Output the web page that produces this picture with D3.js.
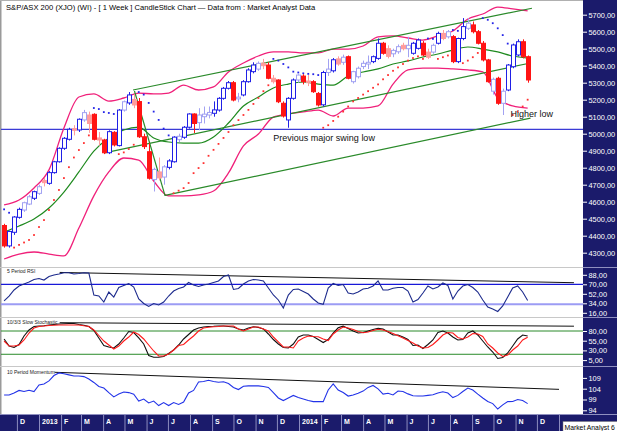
<!DOCTYPE html>
<html><head><meta charset="utf-8">
<script src="https://cdn.jsdelivr.net/npm/d3@7"></script>
<style>body{margin:0;background:#fff}svg{display:block;font-family:'Liberation Sans',Arial,sans-serif}</style>
</head><body><svg id="c" width="617" height="431"></svg>
<script>
// ---------- DATA (weekly S&P/ASX 200) ----------
const open=[4460,4340,4420,4508,4551,4586,4620,4649,4725,4708,4771,4835,4914,4967,5030,5022,5081,5110,5114,4975,
4963,4888,5008,4930,5139,5181,5202,5189,4982,4894,4730,4775,4745,4802,4835,4965,4979,5038,5116,5065,
5100,5110,5120,5139,5208,5267,5300,5205,5228,5306,5365,5380,5415,5404,5326,5316,5179,5081,5208,5316,
5339,5310,5306,5237,5170,5360,5370,5440,5420,5453,5306,5335,5395,5410,5424,5443,5532,5500,5470,5482,
5520,5500,5473,5502,5532,5480,5480,5532,5590,5570,5571,5424,5560,5620,5640,5600,5532,5434,5250,5326,
5179,5257,5394,5463,5541,5453];
const high=[4470,4430,4515,4565,4600,4640,4665,4700,4740,4780,4840,4920,4980,5035,5050,5090,5140,5130,5120,5010,
4970,5020,5015,5145,5195,5245,5230,5210,5000,4946,4800,4860,4815,4850,4985,5000,5045,5120,5120,5150,
5160,5160,5190,5215,5275,5310,5310,5240,5315,5385,5420,5425,5440,5420,5345,5320,5190,5215,5325,5350,
5350,5345,5315,5245,5370,5440,5445,5455,5465,5460,5370,5395,5430,5460,5460,5560,5540,5520,5500,5525,
5535,5570,5540,5560,5545,5500,5530,5600,5610,5610,5580,5565,5680,5680,5660,5610,5545,5440,5330,5335,
5265,5410,5530,5555,5555,5460];
const low=[4330,4330,4405,4500,4540,4580,4610,4640,4690,4700,4765,4830,4905,4960,4990,5010,5070,5005,4960,4930,
4880,4880,4925,4925,5130,5170,5150,4975,4910,4730,4660,4725,4700,4790,4830,4950,4970,5030,5004,5020,
5060,5090,5100,5130,5200,5260,5190,5185,5220,5300,5355,5370,5380,5320,5295,5180,5095,5035,5200,5300,
5290,5280,5240,5160,5160,5340,5360,5400,5405,5320,5295,5325,5380,5380,5415,5435,5465,5443,5450,5470,
5490,5450,5465,5495,5455,5440,5470,5525,5550,5560,5415,5415,5550,5610,5590,5525,5425,5300,5230,5170,
5110,5250,5385,5455,5443,5300];
const close=[4340,4425,4510,4555,4594,4629,4659,4688,4712,4771,4835,4914,4973,5026,5020,5085,5124,5060,4967,4963,
4888,5012,4934,5139,5188,5228,5169,4982,4924,4738,4790,4740,4805,4840,4980,4985,5038,5116,5060,5110,
5115,5125,5140,5208,5267,5300,5198,5215,5306,5375,5404,5414,5400,5326,5306,5188,5104,5208,5316,5345,
5306,5300,5247,5169,5360,5380,5435,5410,5450,5326,5365,5385,5414,5420,5453,5532,5473,5455,5490,5512,
5500,5520,5532,5551,5463,5450,5520,5590,5560,5600,5424,5560,5630,5650,5600,5532,5434,5306,5320,5179,
5250,5404,5522,5541,5453,5316];
// weeks drawn in the pale shade
const paleWeeks=[4,5,7,8,14,16,17,19,24,26,30,31,32,35,39,40,41,47,51,52,54,59,61,65,67,68,70,71,72,73,77,78,79,80,81,85,86,88,89,93,98,100];
// Bollinger bands / 20-week average, sampled every 3rd week
const bandWeeks=d3.range(0,106,3);
const upperBand=[4581,4610,4681,4787,5034,5216,5234,5192,5210,5239,5234,5239,5286,5257,5275,5363,5416,5457,5481,5481,5475,5475,5498,5498,5516,5569,5575,5563,5551,5575,5604,5675,5704,5745,5734,5722];
const midBand=[4422,4457,4498,4563,4657,4775,4898,4975,5022,5039,4975,4951,4945,4945,4981,5063,5163,5216,5269,5292,5304,5292,5286,5339,5363,5381,5410,5428,5451,5469,5492,5510,5498,5481,5457,5445];
const lowerBand=[4263,4292,4304,4292,4281,4445,4634,4775,4857,4845,4722,4634,4634,4640,4663,4769,4928,4998,5098,5116,5128,5139,5104,5151,5151,5163,5292,5375,5386,5386,5381,5375,5363,5210,5163,5151];
// parabolic SAR
const sar=[4555,4535,4330,4346,4360,4375,4404,4451,4492,4551,4610,4669,4739,4803,4860,4904,4945,4990,5151,5145,
5127,5122,5116,4880,4890,4910,4935,5245,5230,5181,5130,5081,5030,4990,4650,4665,4680,4710,4768,4798,
4827,4870,4905,4940,4975,5010,5050,5080,5110,5140,5175,5210,5250,5285,5440,5430,5410,5390,5365,5360,
5355,5352,5350,5345,5035,5050,5075,5100,5130,5160,5190,5210,5230,5250,5270,5290,5320,5345,5370,5390,
5410,5430,5445,5455,5440,5560,5558,5440,5450,5460,5610,5605,5415,5430,5450,5475,5680,5670,5650,5620,
5580,5530,5110,5130,5160,5200];
// trend / channel lines [date, price]
const channelLines=[
  [[new Date(2013,4,13),5257],[new Date(2014,10,24),5738]],
  [[new Date(2013,3,3),4887],[new Date(2014,10,22),5416]],
  [[new Date(2013,5,27),4637],[new Date(2014,10,22),5092]],
  [[new Date(2013,4,15),5251],[new Date(2013,5,27),4634]]
];
const swingLow=5025;
// indicators
const rsi=[38.4,47.8,59.2,66.8,70.6,74.4,79.1,81,78.1,84.8,87.6,89.5,92,92,89.5,90.5,92,91.4,49.7,47.8,
36.5,55.4,45.9,63.9,67.7,71.5,64.9,42.2,33.6,28,33.6,30.8,36.5,47.8,57.3,62,64.9,73.4,68.7,65.8,
68.7,70.6,73.4,76.3,84.8,87.6,60.2,62,70.6,76.3,79.1,78.1,76.3,63,49.7,40.3,25.1,49.7,60.2,61.1,
56.4,51.6,42.2,34.6,32.1,63,71.5,67.7,69.6,53.5,51.6,55.4,61.1,62.4,66.8,76.3,59.2,59.2,62.4,63.9,
63.9,57.3,36.5,41.2,53.5,66.8,61.1,64.9,72.5,67.7,42.2,57.3,66.8,69.6,63.9,55.4,40.3,27,23.2,18.5,
28.9,45.9,63,66.8,55.4,39.3];
const stochK=[59.4,41.3,37.5,45.2,67.1,82.6,91.6,92.9,93.7,95.5,96.8,98,98.8,99.3,99.3,96.8,94.7,91.6,81.3,62,
42.6,38.8,36.2,46.5,62,78.7,76.1,62,46.5,16.9,12.2,12.2,14.3,22,31,43.9,59.4,71,82.6,87.7,
90.3,91.6,92.1,92.9,92.9,91.6,90.3,85.2,82.6,87.7,91.1,89,85.2,72.3,58.1,46.5,37.5,36.2,46.5,64.5,
69.7,69.7,65.8,58.1,50.4,58.1,74.8,88.2,92.4,86.4,80,74.8,76.1,80,83.9,87,85.2,77.4,69.7,69.7,
64.5,58.1,42.6,43.9,34.9,45.2,56.8,76.1,80,74.8,64.5,56.8,58.1,74.8,80,69.7,54.2,38.8,25.9,9.1,
11.7,23.3,41.3,59.4,69.7,67.1];
const stochD=[54.2,41.3,41.3,43.9,56.8,74.8,87.7,91.6,92.9,94.2,94.9,95.5,95.5,95.5,95.5,95.5,93.4,91.6,82.6,68.4,
54.2,43.9,33.6,41.3,54.2,64.5,77.4,71,59.4,43.9,28.5,15.6,15.6,20.7,31,42.6,45.2,56.8,67.1,80,
87.7,89.5,91.1,91.6,92.9,92.9,92.9,85.2,80,85.2,90.3,90.3,85.2,80,64.5,51.7,38.8,38.8,36.2,54.2,
62,67.1,65.8,65.3,59.4,55.5,72.3,82.6,90.3,87.7,83.9,78.7,75.6,77.4,81.3,84.6,82.6,78.7,73.6,67.6,
62,55.5,49.1,41.3,36.2,37.5,45.2,56.8,69.7,76.1,74.8,63.2,59.4,64.5,73.6,72.3,65.8,46.5,36.2,23.3,
14.3,18.2,31,41.3,56.8,63.8];
const momentum=[101.1,101.1,102,103.2,102.7,103.3,102.7,105.7,106.2,107.6,110.1,111.3,110.9,110.4,109.9,109.9,109.6,108.5,106.9,105,
104.3,102.2,100.2,101.5,102.5,102.2,101.5,98.3,99.2,97.4,98.3,96.2,97.6,96.2,97.6,96.7,97.8,102,103.2,107.1,
107.3,107.9,107.3,107,107.2,106.4,104.6,103.6,105.1,105.3,105.3,105.3,105,104.6,102.2,99.7,98.5,99.7,100.9,99.9,
99.2,98.5,98,98,98,103.4,106.2,103.4,102.2,100.6,101.1,101.9,102.9,104.6,105.5,103.9,101.5,101.9,101.1,102.9,
102.7,101.6,100.7,100.6,100.6,100.9,101.2,102,102.6,102,99.9,100.9,102.7,104.3,103.4,101.5,99.7,98.1,97.1,94.6,
96.5,98,98.1,99,98.5,97.1];
const rsiTrend=[[new Date(2013,0,30),92.5],[new Date(2015,0,22),73]];
const stochTrend=[[new Date(2013,0,30),101.4],[new Date(2015,0,22),92.4]];
const momTrend=[[new Date(2013,0,23),111.6],[new Date(2015,0,1),103.7]];
const priceTicks=[4300,4400,4500,4600,4700,4800,4900,5000,5100,5200,5300,5400,5500,5600,5700];
const rsiTicks=[88,70,52,34,16];
const rsiLevels=[70,32];
const stochTicks=[80,55,30,5];
const stochLevels=[80,20];
const momTicks=[109,104,99,94];
const titleText="S&P/ASX 200 (XJO) (WI) -  [ 1 Week ] CandleStick Chart \u2014 Data from : Market Analyst Data";

// ---------- DRAW ----------
const svg=d3.select('#c');
const NAVY='#1b1b6b', PLOT_R=583;
const x=d3.scaleTime().domain([new Date(2013,0,1),new Date(2014,0,1)]).range([39,299]);
const firstWeek=new Date(2012,10,13);
const weeks=d3.range(close.length).map(i=>d3.timeDay.offset(firstWeek,7*i));
const yP=d3.scaleLinear().domain([4300,5700]).range([252.7,14.7]);
const yR=d3.scaleLinear().domain([16,88]).range([312.8,274.8]);
const yS=d3.scaleLinear().domain([5,80]).range([360.1,331]);
const yM=d3.scaleLinear().domain([94,109]).range([410.3,377.9]);
const fmt2=d3.formatLocale({decimal:",",thousands:".",grouping:[3],currency:["",""]}).format(".2f");

const defs=svg.append('defs');
[['cMain',0,267],['cRsi',267,317],['cSto',317,366],['cMom',366,414]].forEach(([id,y0,y1])=>{
  defs.append('clipPath').attr('id',id).append('rect').attr('x',1).attr('y',y0).attr('width',PLOT_R-1).attr('height',y1-y0);
});

// frame
svg.append('rect').attr('x',0).attr('y',0).attr('width',617).attr('height',431).attr('fill','#fff');
svg.append('rect').attr('x',0).attr('y',0).attr('width',1.5).attr('height',414).attr('fill','#9a9a9a');
svg.append('line').attr('x1',0).attr('x2',PLOT_R).attr('y1',0.5).attr('y2',0.5).attr('stroke','#b0b0b0');
[267,317,366].forEach(y=>svg.append('line').attr('x1',0).attr('x2',PLOT_R).attr('y1',y+0.5).attr('y2',y+0.5).attr('stroke','#c8c8c8'));

// ---- main panel ----
const gm=svg.append('g').attr('clip-path','url(#cMain)');
gm.append('line').attr('x1',0).attr('x2',PLOT_R).attr('y1',yP(swingLow)).attr('y2',yP(swingLow)).attr('stroke','#3b3bd6').attr('stroke-width',1.2);
const bandLine=d3.line().x(d=>x(weeks[d[0]])).y(d=>yP(d[1])).curve(d3.curveMonotoneX);
gm.append('path').attr('d',bandLine(bandWeeks.map((w,k)=>[w,upperBand[k]]))).attr('fill','none').attr('stroke','#f0207a').attr('stroke-width',1.3);
gm.append('path').attr('d',bandLine(bandWeeks.map((w,k)=>[w,lowerBand[k]]))).attr('fill','none').attr('stroke','#f0207a').attr('stroke-width',1.3);
gm.append('path').attr('d',bandLine(bandWeeks.map((w,k)=>[w,midBand[k]]))).attr('fill','none').attr('stroke','#1f8a1f').attr('stroke-width',1.2);
channelLines.forEach(l=>{
  gm.append('line').attr('x1',x(l[0][0])).attr('y1',yP(l[0][1])).attr('x2',x(l[1][0])).attr('y2',yP(l[1][1]))
    .attr('stroke','#2a8a2a').attr('stroke-width',1.2);
});
// SAR dots
gm.selectAll('rect.sar').data(sar).join('rect').attr('class','sar')
  .attr('x',(d,i)=>x(weeks[i])-0.9).attr('y',d=>yP(d)-0.9).attr('width',1.8).attr('height',1.8)
  .attr('fill',(d,i)=>d<close[i]?'#ff3030':'#2424e8');
// candles
const pale=new Set(paleWeeks);
const cd=close.map((c,i)=>({i,t:weeks[i],o:open[i],h:high[i],l:low[i],c,pale:pale.has(i)}));
const col=d=>d.c>=d.o?(d.pale?'#a2a2f2':'#2020e6'):(d.pale?'#ff9c9c':'#ff1414');
gm.selectAll('line.wick').data(cd).join('line').attr('class','wick')
  .attr('x1',d=>Math.round(x(d.t))+0.5).attr('x2',d=>Math.round(x(d.t))+0.5)
  .attr('y1',d=>yP(d.h)).attr('y2',d=>yP(d.l)).attr('stroke',col).attr('stroke-width',1);
gm.selectAll('rect.body').data(cd).join('rect').attr('class','body')
  .attr('x',d=>Math.round(x(d.t))-1.5).attr('width',4)
  .attr('y',d=>yP(Math.max(d.o,d.c))).attr('height',d=>Math.max(1,Math.abs(yP(d.o)-yP(d.c))))
  .attr('fill',d=>d.c>=d.o?'#fff':col(d)).attr('stroke',col).attr('stroke-width',1);
// annotations
gm.append('text').attr('x',x(new Date(2013,10,26))).attr('y',yP(4960)).text('Previous major swing low')
  .attr('font-size',9).attr('fill','#111');
gm.append('text').attr('x',x(new Date(2014,9,25))).attr('y',yP(5101)).text('Higher low')
  .attr('font-size',9).attr('fill','#111');
svg.append('text').attr('x',6).attr('y',10).text(titleText).attr('font-size',7.6).attr('fill','#000');

// ---- indicator panels ----
function panelLine(g,arr,y,color,w){
  g.append('path').attr('d',d3.line().x((d,i)=>x(weeks[i])).y(d=>y(d))(arr)).attr('fill','none').attr('stroke',color).attr('stroke-width',w);
}
function trend(g,t,y){
  g.append('line').attr('x1',x(t[0][0])).attr('y1',y(t[0][1])).attr('x2',x(t[1][0])).attr('y2',y(t[1][1])).attr('stroke','#111').attr('stroke-width',1);
}
const gr=svg.append('g').attr('clip-path','url(#cRsi)');
gr.append('line').attr('x1',0).attr('x2',PLOT_R).attr('y1',yR(rsiLevels[0])).attr('y2',yR(rsiLevels[0])).attr('stroke','#1818d8').attr('stroke-width',1.2);
gr.append('line').attr('x1',0).attr('x2',PLOT_R).attr('y1',yR(rsiLevels[1])).attr('y2',yR(rsiLevels[1])).attr('stroke','#9c9cf4').attr('stroke-width',2);
trend(gr,rsiTrend,yR);
panelLine(gr,rsi,yR,'#1c2a8c',1.1);
svg.append('text').attr('x',7).attr('y',272.5).text('5 Period RSI').attr('font-size',5).attr('fill','#222');

const gs=svg.append('g').attr('clip-path','url(#cSto)');
stochLevels.forEach(v=>gs.append('line').attr('x1',0).attr('x2',PLOT_R).attr('y1',yS(v)).attr('y2',yS(v)).attr('stroke','#2a8a2a').attr('stroke-width',1));
trend(gs,stochTrend,yS);
panelLine(gs,stochK,yS,'#111',1.1);
panelLine(gs,stochD,yS,'#ff1a1a',1.1);
svg.append('text').attr('x',7).attr('y',324).text('10/3/3 Slow Stochastic').attr('font-size',5).attr('fill','#222');

const gmo=svg.append('g').attr('clip-path','url(#cMom)');
trend(gmo,momTrend,yM);
panelLine(gmo,momentum,yM,'#2233e8',1.1);
svg.append('text').attr('x',7).attr('y',374).text('10 Period Momentum').attr('font-size',5).attr('fill','#222');

// ---- right axis panel ----
svg.append('rect').attr('x',PLOT_R).attr('y',0).attr('width',617-PLOT_R).attr('height',414).attr('fill',NAVY);
[267,317,366].forEach(y=>svg.append('line').attr('x1',PLOT_R).attr('x2',617).attr('y1',y+0.5).attr('y2',y+0.5).attr('stroke','#9090c0'));
function rightAxis(scale,ticks,fmt){
  const g=svg.append('g').attr('transform',`translate(${PLOT_R},0)`)
    .call(d3.axisRight(scale).tickValues(ticks).tickFormat(fmt).tickSize(4).tickPadding(1.5));
  g.select('.domain').remove();
  g.selectAll('line').attr('stroke','#fff');
  g.selectAll('text').attr('fill','#fff').attr('font-size',7.4).attr('font-family',"'Liberation Sans',Arial,sans-serif");
}
rightAxis(yP,priceTicks,fmt2);
rightAxis(yR,rsiTicks,fmt2);
rightAxis(yS,stochTicks,fmt2);
rightAxis(yM,momTicks,d3.format('d'));

// ---- bottom time axis ----
svg.append('rect').attr('x',0).attr('y',414).attr('width',617).attr('height',17).attr('fill',NAVY);
svg.append('line').attr('x1',0).attr('x2',617).attr('y1',414.5).attr('y2',414.5).attr('stroke','#9090c0');
const months=d3.timeMonth.range(new Date(2012,11,1),new Date(2015,1,1));
const lastLabelled=new Date(2014,11,1);
const ga=svg.append('g').attr('transform','translate(0,414)')
  .call(d3.axisBottom(x).tickValues(months).tickSize(17)
    .tickFormat(d=>d>lastLabelled?'':(d.getMonth()===0?d3.timeFormat('%Y')(d):'JFMAMJJASOND'[d.getMonth()])));
ga.select('.domain').remove();
ga.selectAll('line').attr('stroke','#8c8cbf');
ga.selectAll('text').attr('fill','#fff').attr('font-size',7).attr('font-weight','bold')
  .attr('text-anchor','start').attr('x',2.5).attr('y',5).attr('dy','0.71em')
  .attr('font-family',"'Liberation Sans',Arial,sans-serif");
// badge
svg.append('rect').attr('x',563).attr('y',421.5).attr('width',60).attr('height',10).attr('fill','#fff').attr('stroke','#777').attr('stroke-width',0.5);
svg.append('text').attr('x',564.5).attr('y',429.5).text('Market Analyst 6').attr('font-size',6.8).attr('fill','#000');
</script></body></html>
